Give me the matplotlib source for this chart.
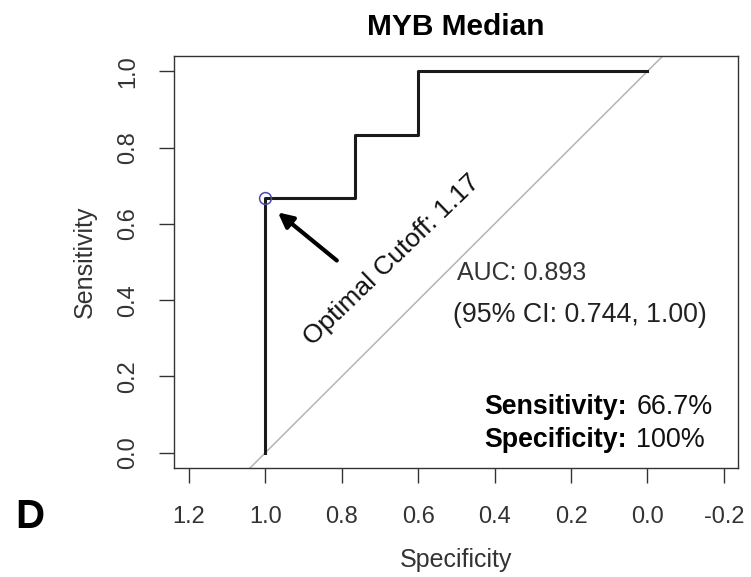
#!/usr/bin/env python3
import matplotlib
matplotlib.use('Agg')
import matplotlib.pyplot as plt

plt.rcParams['font.family'] = ['Liberation Sans', 'DejaVu Sans']

# ROC curve points (specificity, sensitivity)
spec = [1.0, 1.0, 0.765, 0.765, 0.6, 0.6, 0.0]
sens = [0.0, 0.667, 0.667, 0.833, 0.833, 1.0, 1.0]
# optimal cutoff point
opt_spec, opt_sens = 1.0, 0.667
xticks = [1.2, 1.0, 0.8, 0.6, 0.4, 0.2, 0.0, -0.2]
yticks = [0.0, 0.2, 0.4, 0.6, 0.8, 1.0]

fig = plt.figure(figsize=(7.51, 5.77), dpi=100)
ax = fig.add_axes([0.2317, 0.1889, 0.751, 0.714])

ax.axline((1, 0), (0, 1), color='#b4b4b4', lw=1.1)  # chance diagonal
ax.plot(spec, sens, color='#1a1a1a', lw=2.2)
ax.plot([opt_spec], [opt_sens], marker='o', ms=8.5, mfc='none', mec='#4a4ab0', mew=1.1)

ax.annotate('', xy=(0.967, 0.63), xytext=(0.813, 0.504),
            arrowprops=dict(arrowstyle='-|>', lw=3, color='black',
                            mutation_scale=22, shrinkA=0, shrinkB=0))
ax.text(0.67, 0.504, 'Optimal Cutoff: 1.17', rotation=44, fontsize=19,
        ha='center', va='center', rotation_mode='anchor', color='#111')

ax.text(0.499, 0.472, 'AUC: 0.893', fontsize=18, ha='left', va='center', color='#333')
ax.text(0.51, 0.362, '(95% CI: 0.744, 1.00)', fontsize=19.3, ha='left', va='center', color='#222')

ax.text(0.426, 0.121, 'Sensitivity:', fontsize=19.3, weight='bold', ha='left', va='center')
ax.text(0.029, 0.121, '66.7%', fontsize=19.4, ha='left', va='center', color='#111')
ax.text(0.426, 0.034, 'Specificity:', fontsize=19.3, weight='bold', ha='left', va='center')
ax.text(0.029, 0.034, '100%', fontsize=19.4, ha='left', va='center', color='#111')

ax.set_xlim(1.239, -0.237)
ax.set_ylim(-0.04, 1.04)
ax.set_xticks(xticks)
ax.set_xticklabels(['%.1f' % v for v in xticks])
ax.set_yticks(yticks)
ax.set_yticklabels(['%.1f' % v for v in yticks])
ax.tick_params(direction='out', length=11, width=1, color='#333',
               labelsize=17, labelcolor='#333', pad=14)
ax.tick_params(axis='x', pad=16)
ax.tick_params(axis='y', labelrotation=90)
for lab in ax.get_yticklabels():
    lab.set_va('center')
for sp in ax.spines.values():
    sp.set_color('#333')
    sp.set_linewidth(1)

ax.set_xlabel('Specificity', fontsize=18, color='#333')
ax.set_ylabel('Sensitivity', fontsize=18, color='#333')
ax.xaxis.set_label_coords(0.5, -0.2233)
ax.xaxis.label.set_va('center')
ax.yaxis.set_label_coords(-0.158, 0.5)
ax.yaxis.label.set_va('center')

ax.set_title('MYB Median', fontsize=21.5, weight='bold', pad=15)
fig.text(30 / 751, 1 - 517 / 577, 'D', fontsize=29, weight='bold', ha='center', va='center')

fig.savefig('out.png', dpi=100)
